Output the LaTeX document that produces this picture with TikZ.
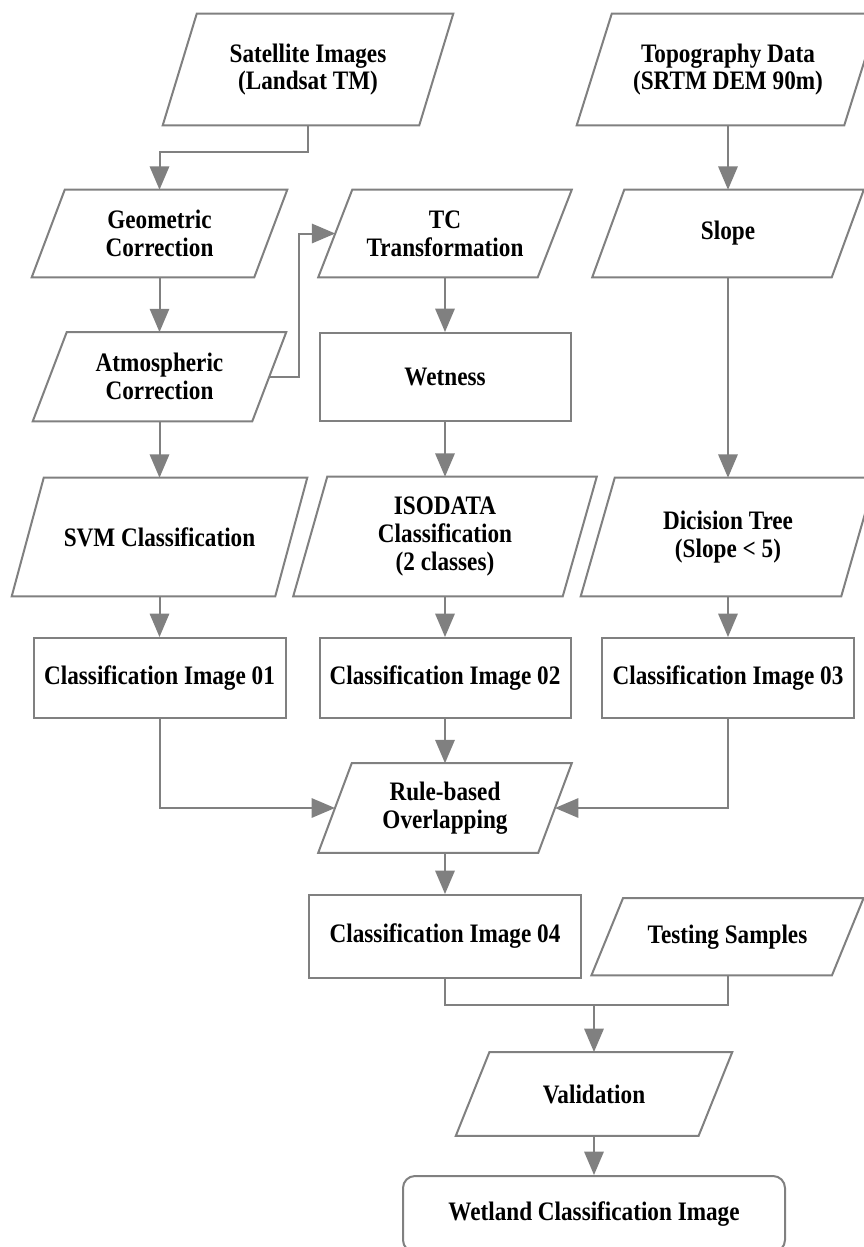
\documentclass[tikz,border=0pt]{standalone}
\usepackage{fontspec}
\setmainfont{Liberation Serif}[FakeStretch=0.87]
\usetikzlibrary{calc,arrows.meta}
\definecolor{lc}{RGB}{128,128,128}
\tikzset{
 txt/.style={shape=rectangle, inner sep=0pt, align=center, font=\bfseries\fontsize{20}{20.8}\selectfont, text=black},
 shp/.style={draw=lc, line width=1.5pt, line join=miter},
 rbox/.style={txt, draw=lc, line width=1.5pt},
 conn/.style={draw=lc, line width=1.5pt},
 arr/.style={conn, -{Triangle[length=17.5pt,width=14.5pt]}},
}
% name, cx, cy, w, h, slant, text
\newcommand\para[7]{%
  \node[txt, minimum width={#4*0.75pt}, minimum height={#5*0.75pt}] (#1) at (#2,#3) {#7};
  \draw[shp] ($(#1.north west)+(#6,0)$) -- (#1.north east) -- ($(#1.south east)-(#6,0)$) -- (#1.south west) -- cycle;
  \coordinate (#1-l) at ($(#1.west)+(#6/2,0)$);
  \coordinate (#1-r) at ($(#1.east)-(#6/2,0)$);
}
% name, cx, cy, w, h, text
\newcommand\rect[6]{%
  \node[rbox, minimum width={#4*0.75pt}, minimum height={#5*0.75pt}] (#1) at (#2,#3) {#6};
}
\begin{document}
\begin{tikzpicture}[x=0.75pt,y=-0.75pt]
\useasboundingbox (0,0) rectangle (864,1247);
\fill[white] (0,0) rectangle (864,1247);
\clip (0,0) rectangle (864,1247);

\para{sat}{308}{69.5}{290}{111}{34}{Satellite Images\\(Landsat TM)}
\para{topo}{728}{69.5}{302}{111}{35}{Topography Data\\(SRTM DEM 90m)}
\para{geo}{159.5}{233.5}{255}{87}{33}{Geometric\\Correction}
\para{tc}{445}{233.5}{253}{87}{34}{TC\\Transformation}
\para{slope}{728}{233.5}{271}{87}{32}{Slope}
\para{atm}{159.5}{376.7}{253}{88.7}{34}{Atmospheric\\Correction}
\rect{wet}{445}{377}{251}{88}{Wetness}
\para{svm}{159.5}{537}{295}{118}{32}{SVM Classification}
\para{iso}{445}{536.5}{303}{119}{34}{ISODATA\\Classification\\(2 classes)}
\para{dec}{728}{537}{294}{118}{34}{Dicision Tree\\(Slope < 5)}
\rect{c1}{159.5}{678}{252}{80}{Classification Image 01}
\rect{c2}{445}{678}{251}{80}{Classification Image 02}
\rect{c3}{728}{678}{252}{80}{Classification Image 03}
\para{rule}{445}{808}{253}{89}{33.5}{Rule-based\\Overlapping}
\rect{c4}{445}{936.5}{272}{83}{Classification Image 04}
\para{test}{727.5}{936.7}{271.6}{76.7}{31.6}{Testing Samples}
\para{val}{594}{1094}{276}{83.4}{33.7}{Validation}
\node[rbox, rounded corners=9pt, minimum width={382*0.75pt}, minimum height={76*0.75pt}] (wl) at (594,1214) {Wetland Classification Image};

\draw[arr] (sat.south) -- ($(sat.south)+(0,27)$) -| (geo.north);
\draw[arr] (topo.south) -- (slope.north);
\draw[arr] (geo.south) -- (atm.north);
\draw[arr] (atm-r) -- ++(30,0) |- (tc-l);
\draw[arr] (tc.south) -- (wet.north);
\draw[arr] (slope.south) -- (dec.north);
\draw[arr] (atm.south) -- (svm.north);
\draw[arr] (wet.south) -- (iso.north);
\draw[arr] (svm.south) -- (c1.north);
\draw[arr] (iso.south) -- (c2.north);
\draw[arr] (dec.south) -- (c3.north);
\draw[arr] (c1.south) |- (rule-l);
\draw[arr] (c3.south) |- (rule-r);
\draw[arr] (c2.south) -- (rule.north);
\draw[arr] (rule.south) -- (c4.north);
\coordinate (j) at ($(val.north)+(0,-47)$);
\draw[conn] (c4.south) |- (j) -| (test.south);
\draw[arr] (j) -- (val.north);
\draw[arr] (val.south) -- (wl.north);
\end{tikzpicture}
\end{document}
